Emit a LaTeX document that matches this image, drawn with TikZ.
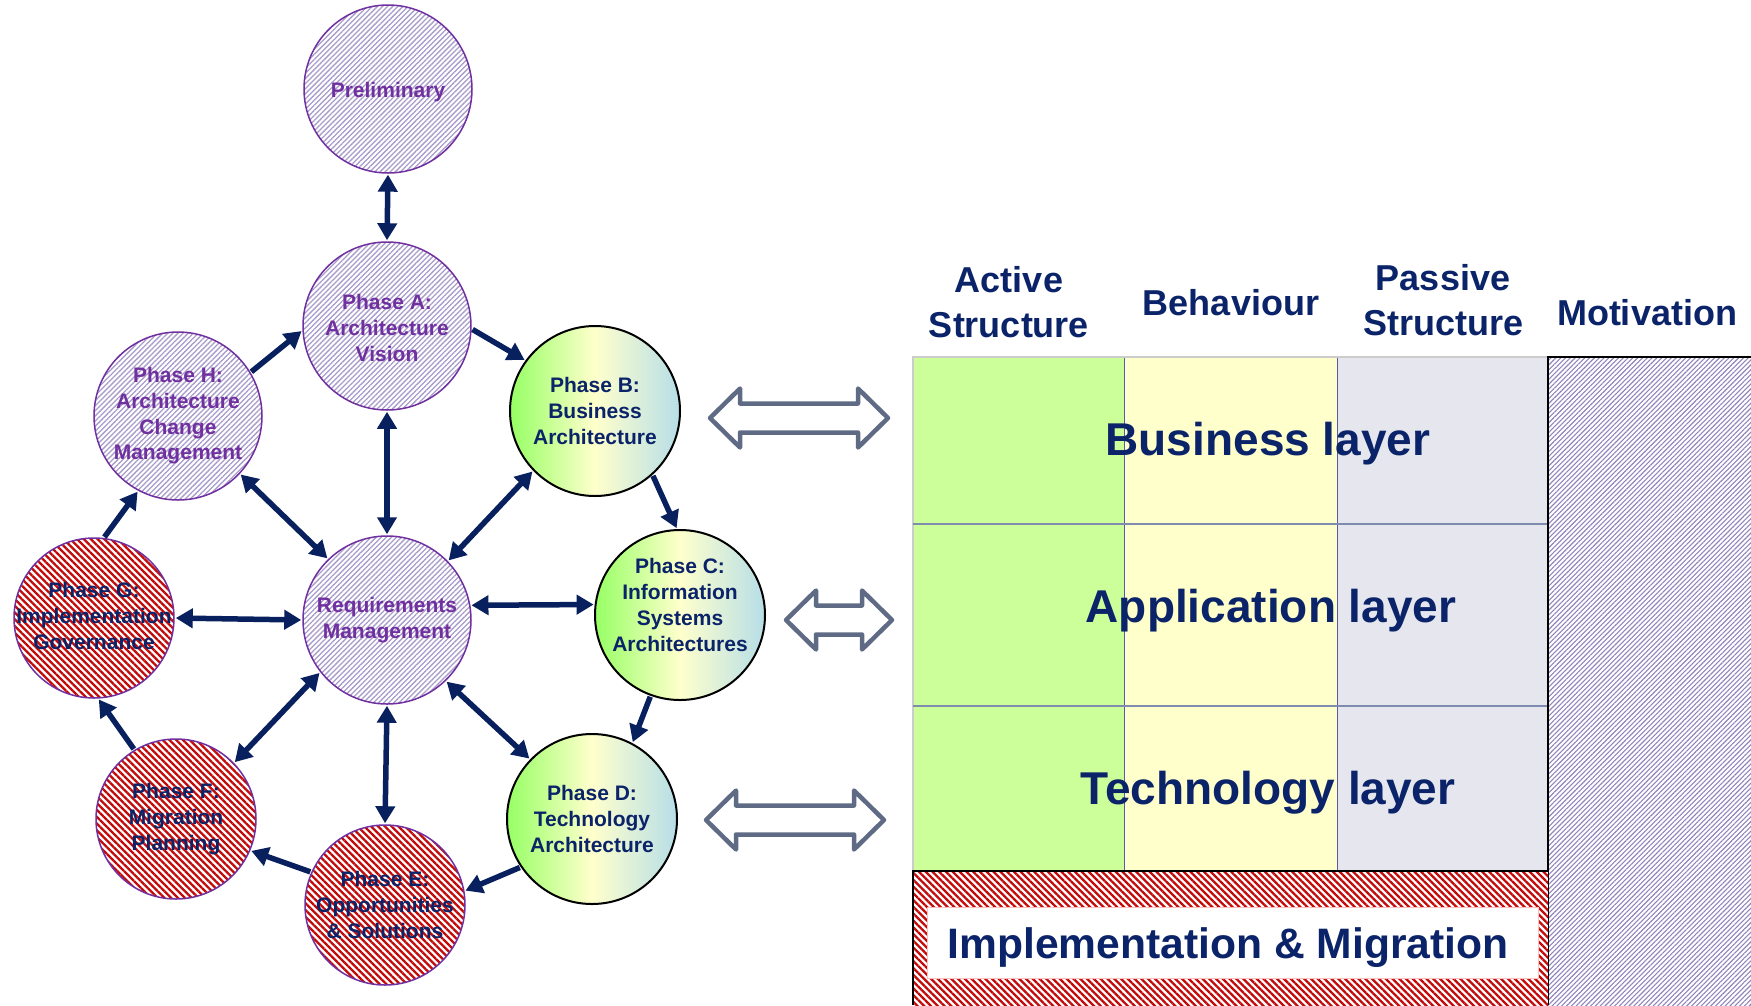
\documentclass[tikz,border=0pt]{standalone}
\usepackage{fontspec}
\setmainfont{Liberation Sans}
\usetikzlibrary{arrows.meta,patterns.meta}
\definecolor{navy}{RGB}{11,35,105}
\definecolor{arrnavy}{RGB}{8,32,94}
\definecolor{purp}{RGB}{112,48,160}
\definecolor{purphatch}{RGB}{168,156,202}
\definecolor{mothatch}{RGB}{145,132,188}
\definecolor{redh}{RGB}{195,10,10}
\definecolor{greyarr}{RGB}{95,107,133}
\definecolor{gA}{RGB}{150,255,100}
\definecolor{gB}{RGB}{255,255,204}
\definecolor{gC}{RGB}{183,222,232}
\definecolor{colAct}{RGB}{204,255,153}
\definecolor{colBeh}{RGB}{255,255,204}
\definecolor{colPas}{RGB}{230,231,238}
\definecolor{rowline}{RGB}{128,140,175}
\newcommand\bigdblarrow[3]{% xL, xR, y
  \draw[greyarr,line width=4.5pt,line join=round,fill=white]
    (#1,#3) -- (#1+30,#3-29.5) -- (#1+30,#3-14.5) -- (#2-30,#3-14.5) -- (#2-30,#3-29.5)
    -- (#2,#3) -- (#2-30,#3+29.5) -- (#2-30,#3+14.5) -- (#1+30,#3+14.5) -- (#1+30,#3+29.5) -- cycle;}
\begin{document}
\begin{tikzpicture}[x=1pt,y=-1pt,
  circtext/.style={align=center,font=\bfseries\fontsize{21}{25.7}\selectfont,inner sep=0pt},
  ptext/.style={circtext,text=purp},
  ntext/.style={circtext,text=navy},
  purpcirc/.style={circle,inner sep=0pt,minimum size=168pt,draw=purp,line width=1.5pt,
     preaction={fill=white},pattern={Lines[angle=45,distance=3.6pt,line width=1.3pt]},pattern color=purphatch},
  redcirc/.style={circle,inner sep=0pt,minimum size=160pt,draw=purp,line width=1.5pt,
     preaction={fill=white},pattern={Lines[angle=-45,distance=4.8pt,line width=2.3pt]},pattern color=redh},
  greencirc/.style={circle,inner sep=0pt,minimum size=170pt,draw=black,line width=2pt,
     left color=gA,right color=gC,middle color=gB},
  conn/.style={draw=arrnavy,line width=5.5pt,shorten >=1pt,shorten <=1pt,-{Triangle[length=17pt,width=19pt]}},
  bconn/.style={draw=arrnavy,line width=5.5pt,shorten >=1pt,shorten <=1pt,{Triangle[length=17pt,width=19pt]}-{Triangle[length=17pt,width=19pt]}},
  hdr/.style={anchor=base,text=navy,font=\bfseries\fontsize{36}{44}\selectfont},
  layer/.style={anchor=base,text=navy,font=\bfseries\fontsize{46}{55}\selectfont}]
\useasboundingbox (0,0) rectangle (1751,1005);

% ---------- table ----------
\fill[colAct] (913,357) rectangle (1124,871);
\fill[colBeh] (1124,357) rectangle (1337,871);
\fill[colPas] (1337,357) rectangle (1548,871);
\draw[gray!70!blue,line width=0.8pt] (1124,357) -- (1124,871);
\draw[gray!70!blue,line width=0.8pt] (1337,357) -- (1337,871);
\draw[black!20,line width=1.5pt] (913,871) -- (913,357) -- (1548,357);
\draw[rowline,line width=2.5pt] (913,524) -- (1548,524);
\draw[rowline,line width=2.5pt] (913,706) -- (1548,706);
% motivation column
\fill[white] (1548,357) rectangle (1751,1005);
\path[pattern={Lines[angle=45,distance=3.4pt,line width=1.1pt]},pattern color=mothatch] (1548,357) rectangle (1751,1005);
\draw[black,line width=2pt] (1548,1005) -- (1548,357) -- (1751,357);
% implementation & migration
\fill[white] (913,871) rectangle (1548,1005);
\path[pattern={Lines[angle=-45,distance=4.8pt,line width=2.3pt]},pattern color=redh] (913,871) rectangle (1548,1005);
\draw[black,line width=2pt] (913,1005) -- (913,871) -- (1548,871);
\fill[white] (927,907) rectangle (1538,978);
\draw[red!25,line width=0.8pt] (927,907) rectangle (1538,978);

\node[layer] (bl) at (1268,455) {Business layer};
\node[layer] (al) at (1271,622) {Application layer};
\node[layer] (tl) at (1268,804) {Technology layer};
\node[anchor=base,text=navy,font=\bfseries\fontsize{42.6}{50}\selectfont] (im) at (1228,958) {Implementation \& Migration};

\node[hdr] (h1a) at (1009,292) {Active};
\node[hdr] (h1b) at (1009,337) {Structure};
\node[hdr] (h2) at (1231,315) {Behaviour};
\node[hdr] (h3a) at (1443,290) {Passive};
\node[hdr] (h3b) at (1443,335) {Structure};
\node[hdr] (h4) at (1647,325) {Motivation};

% ---------- hollow double arrows ----------
\bigdblarrow{710}{888}{418}
\bigdblarrow{786}{892}{620}
\bigdblarrow{706}{884}{820}

% ---------- circles ----------
\node[purpcirc,label={[ptext,yshift=-3pt]center:Preliminary}] (P) at (388,89) {};
\node[purpcirc,label={[ptext,yshift=-2pt]center:{Phase A:\\Architecture\\Vision}}] (A) at (387,326) {};
\node[purpcirc,label={[ptext]center:{Phase H:\\Architecture\\Change\\Management}}] (H) at (178,416) {};
\node[purpcirc,label={[ptext]center:{Requirements\\Management}}] (R) at (387,620) {};
\node[greencirc,label={[ntext]center:{Phase B:\\Business\\Architecture}}] (B) at (595,411) {};
\node[greencirc,label={[ntext,yshift=10pt]center:{Phase C:\\Information\\Systems\\Architectures}}] (C) at (680,615) {};
\node[greencirc,label={[ntext]center:{Phase D:\\Technology\\Architecture}}] (D) at (592,819) {};
\node[redcirc,label={[ntext,yshift=2pt]center:{Phase G:\\Implementation\\Governance}}] (G) at (94,618) {};
\node[redcirc,label={[ntext]center:{Phase F:\\Migration\\Planning}}] (F) at (176,819) {};
\node[redcirc,label={[ntext]center:{Phase E:\\Opportunities\\\& Solutions}}] (E) at (385,905) {};

% ---------- connectors ----------
\draw[bconn] (P.270) -- (A.90);
\draw[conn] (H.31) -- (A.183);
\draw[conn] (A.-2) -- (B.144);
\draw[conn] (B.-48) -- (C.92);
\draw[conn] (C.250) -- (D.62);
\draw[conn] (D.214) -- (E.10);
\draw[conn] (E.156) -- (F.-23);
\draw[conn] (F.121) -- (G.-87);
\draw[conn] (G.83) -- (H.242);
\draw[bconn] (H.-43) -- (R.134);
\draw[bconn] (A.270) -- (R.90);
\draw[bconn] (B.224) -- (R.44);
\draw[bconn] (C.173) -- (R.10);
\draw[bconn] (D.136) -- (R.-46);
\draw[bconn] (E.90) -- (R.270);
\draw[bconn] (F.44) -- (R.218);
\draw[bconn] (G.0) -- (R.180);
\end{tikzpicture}
\end{document}
